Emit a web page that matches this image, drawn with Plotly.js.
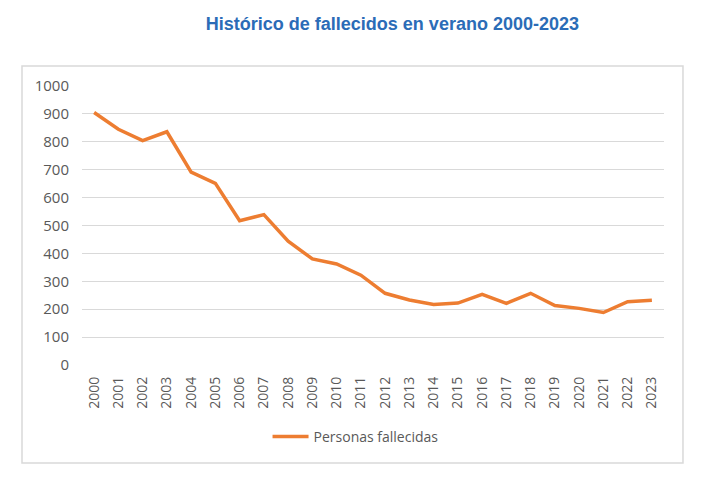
<!DOCTYPE html>
<html>
<head>
<meta charset="utf-8">
<script src="https://cdn.plot.ly/plotly-3.0.1.min.js"></script>
<style>html,body{margin:0;padding:0;background:#fff;}#chart{width:720px;height:480px;}</style>
</head>
<body>
<div id="chart"></div>
<script>
const years = ["2000","2001","2002","2003","2004","2005","2006","2007","2008","2009","2010","2011","2012","2013","2014","2015","2016","2017","2018","2019","2020","2021","2022","2023"];
const fallecidos = [905,845,804,836,691,651,517,539,444,380,362,322,257,233,217,222,253,221,257,213,203,188,227,232];
const seriesName = "Personas fallecidas";
const chartTitle = "Histórico de fallecidos en verano 2000-2023";
const yTicks = [0,100,200,300,400,500,600,700,800,900,1000];

const trace = {
  x: years, y: fallecidos, type: "scatter", mode: "lines", name: seriesName,
  line: {color: "#ED7D31", width: 3.5}
};
const layout = {
  width: 720, height: 480,
  margin: {l: 82, r: 56, t: 86, b: 115},
  paper_bgcolor: "#ffffff", plot_bgcolor: "#ffffff",
  showlegend: true,
  title: {text: chartTitle, x: 0.545, xref: "container", xanchor: "center", y: 0.95, yref: "container", yanchor: "middle",
    font: {family: "Liberation Sans, Arial, sans-serif", size: 18, color: "#2B6CB7", weight: "bold"}},
  xaxis: {type: "category", range: [-0.5, 23.5], tickangle: -90, showgrid: false, zeroline: false, showline: false,
    ticks: "", ticklabelstandoff: 8, tickfont: {family: "Open Sans, sans-serif", size: 14, color: "#595959"}, fixedrange: true},
  yaxis: {range: [0, 1000], tickvals: yTicks, showgrid: true, gridcolor: "#D9D9D9", gridwidth: 1, zeroline: false, showline: false,
    ticks: "", ticklen: 0, ticklabelstandoff: 12, tickfont: {family: "Open Sans, sans-serif", size: 15, color: "#595959"}, fixedrange: true},
  legend: {orientation: "h", x: 0.47, xanchor: "center", y: -0.258, yanchor: "middle",
    font: {family: "Open Sans, sans-serif", size: 14, color: "#595959"}, itemwidth: 36},
  shapes: [{type: "rect", xref: "paper", yref: "paper", x0: -0.1031, x1: 1.0326, y0: -0.3513, y1: 1.0717,
    line: {color: "#D9D9D9", width: 1.5}, fillcolor: "rgba(0,0,0,0)", layer: "below"}]
};
Plotly.newPlot("chart", [trace], layout, {displayModeBar: false, staticPlot: true});
</script>
</body>
</html>
